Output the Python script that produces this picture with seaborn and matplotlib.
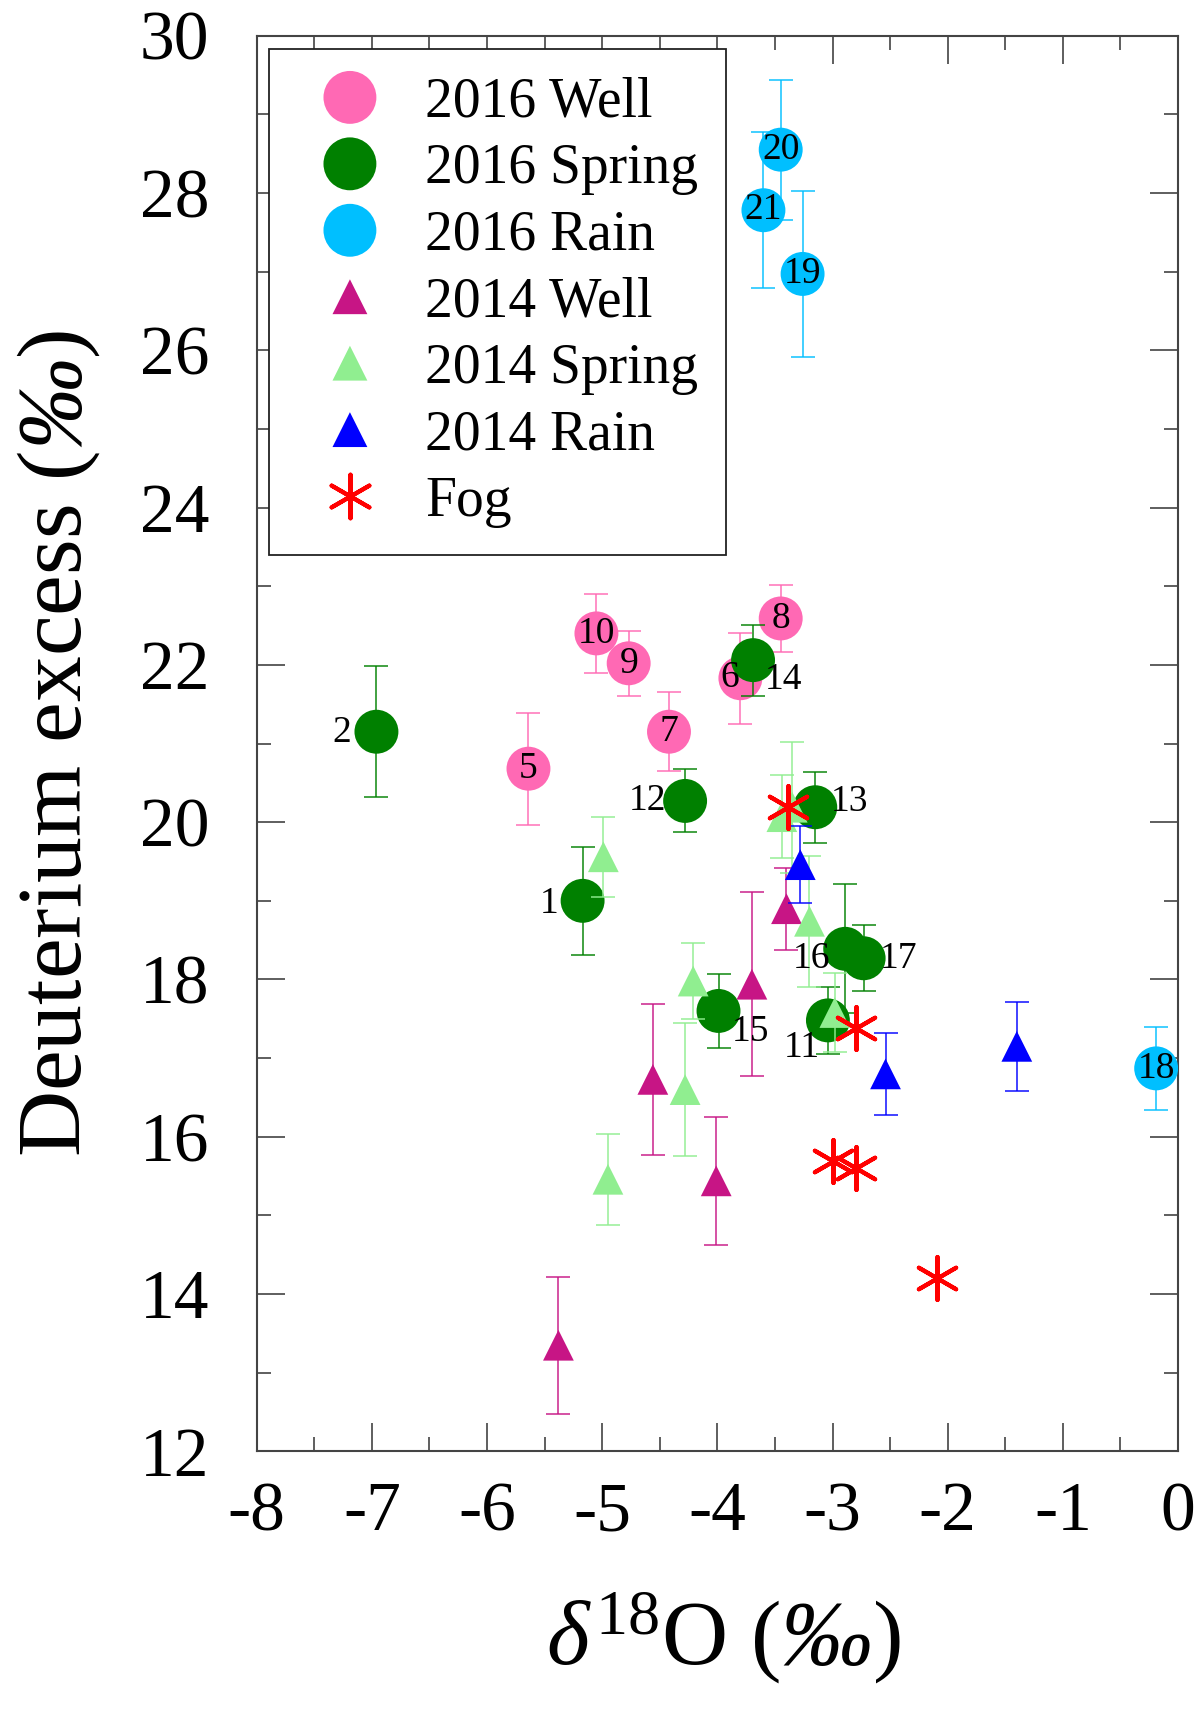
import matplotlib
matplotlib.use("Agg")
import matplotlib.pyplot as plt
import seaborn as sns
from matplotlib.ticker import MultipleLocator

sns.set_style("ticks")
plt.rcParams["font.family"] = ["Liberation Serif", "DejaVu Serif"]
plt.rcParams["mathtext.fontset"] = "custom"
# math mode is only used for the italic symbols in the axis labels
plt.rcParams["mathtext.rm"] = "Liberation Serif:italic"
plt.rcParams["mathtext.it"] = "Liberation Serif:italic"
plt.rcParams["mathtext.bf"] = "Liberation Serif:bold"
plt.rcParams["axes.unicode_minus"] = False
for key in ["text.color", "axes.labelcolor", "xtick.labelcolor", "ytick.labelcolor"]:
    plt.rcParams[key] = "black"

# ---- data: d18O (permil), deuterium excess (permil), 1-sigma error ----
well16_ids = ["5", "10", "9", "7", "6", "8"]
well16_x = [-5.64, -5.05, -4.77, -4.42, -3.80, -3.45]
well16_y = [20.68, 22.40, 22.02, 21.15, 21.83, 22.59]
well16_err = [0.71, 0.50, 0.41, 0.50, 0.58, 0.43]

spring16_ids = ["2", "1", "12", "14", "13", "15", "16", "17", "11"]
spring16_x = [-6.96, -5.17, -4.28, -3.69, -3.15, -3.99, -2.89, -2.73, -3.04]
spring16_y = [21.15, 19.00, 20.27, 22.06, 20.19, 17.60, 18.39, 18.27, 17.48]
spring16_err = [0.83, 0.69, 0.40, 0.45, 0.45, 0.47, 0.82, 0.42, 0.43]

rain16_ids = ["20", "21", "19", "18"]
rain16_x = [-3.45, -3.60, -3.26, -0.19]
rain16_y = [28.55, 27.78, 26.97, 16.87]
rain16_err = [0.89, 0.99, 1.06, 0.53]

well14_x = [-5.38, -4.56, -4.01, -3.70, -3.40]
well14_y = [13.35, 16.73, 15.44, 17.94, 18.90]
well14_err = [0.87, 0.96, 0.81, 1.17, 0.52]

spring14_x = [-4.99, -4.21, -4.28, -4.95, -3.44, -3.35, -3.20, -2.98]
spring14_y = [19.56, 17.98, 16.60, 15.46, 20.07, 20.19, 18.74, 17.58]
spring14_err = [0.51, 0.48, 0.85, 0.58, 0.53, 0.83, 0.83, 0.50]

rain14_x = [-3.28, -2.54, -1.40]
rain14_y = [19.46, 16.80, 17.15]
rain14_err = [0.49, 0.52, 0.57]

fog_x = [-3.39, -2.80, -3.00, -2.80, -2.09]
fog_y = [20.19, 17.38, 15.69, 15.60, 14.21]

# label offsets (points) for sample numbers placed beside their marker
label_offsets = {
    "2": (-25, -1), "1": (-24, -2), "12": (-27, 0), "14": (22, -14),
    "6": (-8, 0), "13": (25, 4), "15": (23, -15), "16": (-24, -7),
    "17": (25, 0), "11": (-19, -20),
}

fig = plt.figure(figsize=(12.01, 17.12), dpi=100)
ax = fig.add_axes([0.2137, 0.1522, 0.7672, 0.8270])

ASTERISK = (6, 2, 0)


def draw_series(x, y, err, color, marker, size, label, z):
    if err is not None:
        ax.errorbar(x, y, yerr=err, fmt="none", ecolor=color, alpha=0.8,
                    elinewidth=1.3, capsize=8.5, capthick=1.3, zorder=z)
    if marker == ASTERISK:
        sns.scatterplot(x=x, y=y, color=color, marker=marker, s=size,
                        linewidth=3.0, label=label, ax=ax, zorder=z + 0.5)
    else:
        sns.scatterplot(x=x, y=y, color=color, marker=marker, s=size,
                        linewidth=0, edgecolor="none", label=label, ax=ax,
                        zorder=z + 0.5)


CIRCLE_S = 1000
TRI_S = 490
draw_series(well16_x, well16_y, well16_err, "#FF69B4", "o", CIRCLE_S, "2016 Well", 2)
draw_series(spring16_x, spring16_y, spring16_err, "#008000", "o", CIRCLE_S, "2016 Spring", 3)
draw_series(rain16_x, rain16_y, rain16_err, "#00BFFF", "o", CIRCLE_S, "2016 Rain", 4)
draw_series(well14_x, well14_y, well14_err, "#C71585", "^", TRI_S, "2014 Well", 5)
draw_series(spring14_x, spring14_y, spring14_err, "#90EE90", "^", TRI_S, "2014 Spring", 6)
draw_series(rain14_x, rain14_y, rain14_err, "#0000FF", "^", TRI_S, "2014 Rain", 7)
draw_series(fog_x, fog_y, None, "#FF0000", ASTERISK, 960, "Fog", 8)

# sample numbers
for ids, xs, ys in [(well16_ids, well16_x, well16_y),
                    (spring16_ids, spring16_x, spring16_y),
                    (rain16_ids, rain16_x, rain16_y)]:
    for t, xv, yv in zip(ids, xs, ys):
        off = label_offsets.get(t, (0, 0))
        ax.annotate(t, (xv, yv), xytext=off, textcoords="offset points",
                    ha="center", va="center", fontsize=27, color="black",
                    zorder=20)

ax.set_xlim(-8, 0)
ax.set_ylim(12, 30)
ax.xaxis.set_major_locator(MultipleLocator(1))
ax.xaxis.set_minor_locator(MultipleLocator(0.5))
ax.yaxis.set_major_locator(MultipleLocator(2))
ax.yaxis.set_minor_locator(MultipleLocator(1))
ax.tick_params(which="both", direction="in", top=True, right=True,
               width=1.1, color="#333333", labelcolor="black")
ax.tick_params(which="major", length=20, labelsize=50)
ax.tick_params(which="minor", length=9.8)
ax.tick_params(axis="x", which="major", pad=22)
ax.tick_params(axis="y", which="major", pad=34)
for sp in ax.spines.values():
    sp.set_linewidth(1.5)
    sp.set_color("#444444")

ax.set_xlabel(r"$\delta^{\mathregular{18}}$O ($‰$)", fontsize=66, color="black")
ax.set_ylabel(r"Deuterium excess ($‰$)", fontsize=66, color="black")
ax.xaxis.set_label_coords(0.507, -0.098)
ax.yaxis.set_label_coords(-0.168, 0.5)

leg = ax.legend(loc="upper left", bbox_to_anchor=(0.0138, 0.9905),
                borderaxespad=0, fontsize=40, frameon=True, fancybox=False,
                edgecolor="#222222", framealpha=1, borderpad=0.5,
                handlelength=1.9, handletextpad=0.4, labelspacing=0.26,
                scatteryoffsets=[0.5], labelcolor="black")
leg.get_frame().set_linewidth(1.3)
leg.set_zorder(30)
legend_sizes = [1450, 1450, 1450, 630, 630, 630, 985]
for h, s in zip(leg.legend_handles, legend_sizes):
    h.set_sizes([s])

fig.savefig("out.png", dpi=100)
